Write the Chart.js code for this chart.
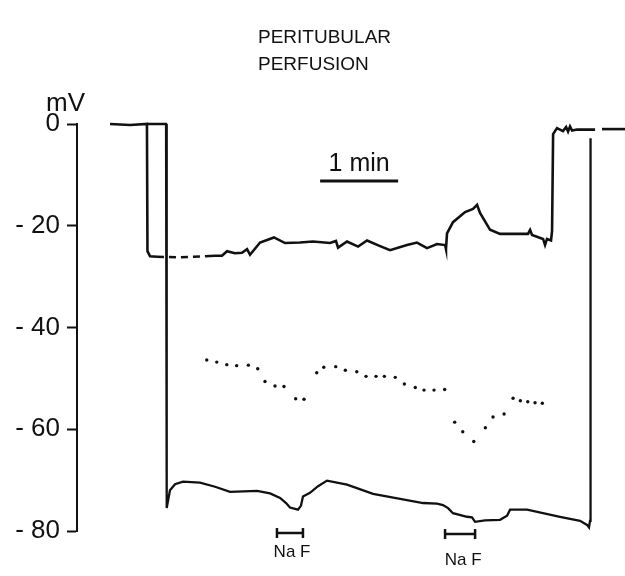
<!DOCTYPE html>
<html>
<head>
<meta charset="utf-8">
<title>Peritubular perfusion</title>
<script src="https://cdn.jsdelivr.net/npm/chart.js@4.4.1/dist/chart.umd.min.js"></script>
<style>
    body { margin: 0; background: #fff; }
    canvas { display: block; }
</style>
</head>
<body>
<canvas id="traceChart" width="625" height="576"></canvas>
<script>
// time in seconds, potentials in mV
const yTicks = [0, -20, -40, -60, -80];

// upper trace (solid, dashed piece after the drop)
const upperTime = [25.4, 40.8, 53.8, 54.2, 56.2, 61.5, 79.2, 98.5, 106.2, 111.5, 115.4, 121.5, 126.9, 130.8, 133.1,
    140.8, 146.2, 151.5, 160.0, 171.5, 181.5, 194.6, 199.2, 200.8, 207.7, 216.2, 223.1, 233.1, 240.8, 253.8,
    261.5, 269.2, 276.9, 283.1, 283.8, 284.6, 289.2, 298.5, 304.6, 307.7, 310.0, 317.7, 325.4, 346.9, 348.5,
    350.0, 358.5, 360.0, 361.5, 364.6, 365.4, 366.2, 369.2, 373.8, 376.2, 377.7, 379.2, 380.8, 384.6, 398.5,
    400.5, 403.8, 421.5];
const upperMv = [0, -0.2, 0, -25.0, -26.0, -26.1, -26.2, -26.0, -25.9, -25.9, -25.0, -25.4, -25.3, -24.6, -25.7,
    -23.3, -22.8, -22.3, -23.4, -23.3, -23.1, -23.4, -23.0, -24.3, -23.1, -24.1, -22.9, -24.0, -24.8, -23.8,
    -23.3, -24.4, -23.6, -23.8, -24.6, -21.5, -19.3, -17.3, -16.7, -15.9, -17.5, -20.8, -21.6, -21.6, -20.8,
    -21.8, -22.6, -23.8, -22.6, -22.9, -21.0, -2.0, -0.8, -1.4, -0.6, -1.5, -0.5, -1.3, -1.1, -1.1,
    null, -1.0, -1.0];
const dashFrom = 61.5;
const dashTo = 98.5;

// lower trace
const lowerTime = [53.8, 68.5, 68.8, 69.2, 71.5, 75.4, 81.5, 94.6, 106.2, 117.7, 138.5, 148.5, 156.2, 160.8, 163.8,
    170.0, 172.3, 173.8, 179.2, 185.4, 192.3, 207.7, 227.7, 248.5, 266.2, 276.9, 281.5, 285.4, 289.2, 300.0,
    303.8, 306.2, 313.8, 325.4, 330.8, 333.1, 346.2, 371.5, 386.9, 392.3, 393.8, 394.6, 395.0];
const lowerMv = [0, 0, -74.0, -75.5, -72.0, -70.8, -70.3, -70.5, -71.3, -72.3, -72.1, -72.6, -73.5, -74.5, -75.4,
    -75.8, -75.0, -73.2, -72.5, -71.2, -70.1, -70.9, -72.7, -73.7, -74.5, -74.6, -74.9, -75.5, -76.5, -77.2,
    -77.3, -78.2, -77.9, -77.8, -77.0, -75.8, -75.8, -77.2, -78.0, -78.8, -79.3, -78.0, -2.8];

// dotted trace
const dotTime = [99.8, 107.5, 115.2, 122.8, 131.8, 139.0, 144.6, 152.3, 159.2, 168.2, 174.6, 184.4, 189.8, 199.0,
    206.4, 215.2, 222.3, 230.0, 236.4, 244.8, 251.8, 260.2, 266.9, 274.6, 282.8, 290.5, 296.7, 305.2, 314.1,
    320.0, 328.5, 335.4, 341.0, 346.7, 352.3, 357.9];
const dotMv = [-46.4, -46.8, -47.3, -47.5, -47.4, -48.1, -50.6, -51.5, -51.6, -54.0, -54.1, -48.9, -47.8, -47.7,
    -48.4, -48.7, -49.6, -49.6, -49.6, -49.8, -51.1, -51.8, -52.3, -52.3, -52.2, -58.6, -60.5, -62.4, -59.7,
    -57.6, -57.0, -53.9, -54.4, -54.6, -54.8, -54.9];

// NaF application bars and the 1 min scale bar
const nafTime = [153.8, 173.8, null, 283.1, 306.2];
const nafMv = [-80.4, -80.4, null, -80.6, -80.6];
const nafLabels = ["Na F", "Na F"];
const nafLabelTime = [165.4, 297.0];
const nafLabelMv = [-85.2, -86.6];
const scaleTime = [187, 247];
const scaleMv = [-11.2, -11.2];
const scaleLabel = "1 min";

const font = "'Liberation Sans', Arial, sans-serif";

function pairs(xs, ys) {
    return xs.map((x, i) => ({ x: x === null ? NaN : x, y: ys[i] }));
}

// text that isn't part of the axes
const annotations = {
    id: "annotations",
    afterDraw(chart) {
        const c = chart.ctx;
        const xs = chart.scales.x;
        const ys = chart.scales.y;
        c.save();
        c.fillStyle = "#111";
        c.textBaseline = "alphabetic";
        c.font = "19px " + font;
        c.textAlign = "left";
        c.fillText("PERITUBULAR", 258, 43);
        c.fillText("PERFUSION", 258, 70);
        c.font = "26px " + font;
        c.fillText("mV", 46, 111);

        c.textAlign = "center";
        c.font = "25px " + font;
        c.fillText(scaleLabel, xs.getPixelForValue((scaleTime[0] + scaleTime[1]) / 2), ys.getPixelForValue(-9.2));

        c.font = "17px " + font;
        nafLabels.forEach((t, i) => {
            c.fillText(t, xs.getPixelForValue(nafLabelTime[i]), ys.getPixelForValue(nafLabelMv[i]));
        });
        c.restore();
    }
};

document.addEventListener("DOMContentLoaded", function () {
    const ctx = document.getElementById("traceChart").getContext("2d");

    new Chart(ctx, {
        type: "line",
        data: {
            datasets: [{
                label: "upper",
                data: pairs(upperTime, upperMv),
                borderColor: "#111",
                borderWidth: 2.6,
                pointRadius: 0,
                spanGaps: false,
                clip: false,
                segment: {
                    borderDash: c => (c.p0.parsed.x >= dashFrom && c.p1.parsed.x <= dashTo) ? [7, 5] : undefined
                }
            },
            {
                label: "lower",
                data: pairs(lowerTime, lowerMv),
                borderColor: "#111",
                borderWidth: 2.3,
                pointRadius: 0,
                clip: false
            },
            {
                label: "dots",
                data: pairs(dotTime, dotMv),
                showLine: false,
                pointRadius: 1.7,
                pointBackgroundColor: "#111",
                pointBorderWidth: 0,
                clip: false
            },
            {
                label: "NaF",
                data: pairs(nafTime, nafMv),
                borderColor: "#111",
                borderWidth: 2.5,
                pointStyle: "line",
                pointRotation: 90,
                pointRadius: 5,
                pointBorderWidth: 2.5,
                pointBorderColor: "#111",
                spanGaps: false,
                clip: false
            },
            {
                label: "scale",
                data: pairs(scaleTime, scaleMv),
                borderColor: "#111",
                borderWidth: 3,
                pointRadius: 0,
                clip: false
            }]
        },
        options: {
            responsive: false,
            animation: false,
            layout: { autoPadding: false, padding: { top: 124, bottom: 45, left: 0, right: 0 } },
            plugins: {
                legend: { display: false },
                tooltip: { enabled: false }
            },
            scales: {
                x: {
                    type: "linear",
                    min: 0,
                    max: 421.5,
                    display: false
                },
                y: {
                    min: -80,
                    max: 0,
                    afterFit: s => { s.width = 77; },
                    afterBuildTicks: s => { s.ticks = yTicks.map(v => ({ value: v })); },
                    border: { display: true, color: "#111", width: 2 },
                    grid: {
                        drawOnChartArea: false,
                        drawTicks: true,
                        tickLength: 10,
                        tickWidth: 2,
                        tickColor: "#111"
                    },
                    ticks: {
                        padding: 7,
                        color: "#111",
                        font: { family: font, size: 26 },
                        callback: v => v === 0 ? "0" : "- " + Math.abs(v)
                    }
                }
            }
        },
        plugins: [annotations]
    });
});
</script>
</body>
</html>
